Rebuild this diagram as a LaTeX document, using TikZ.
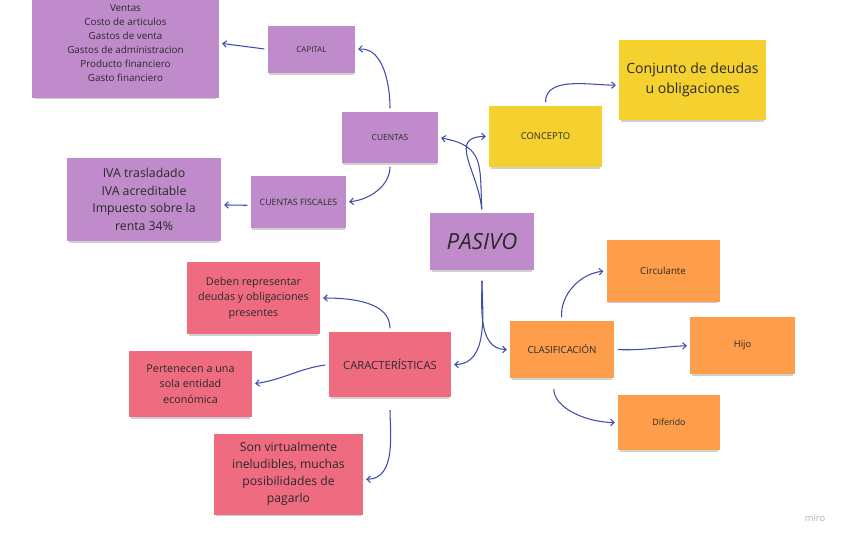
\documentclass[tikz,border=0pt]{standalone}
\usepackage{fontspec}
\setmainfont{Open Sans}
\usetikzlibrary{arrows.meta,shadows}
\definecolor{lila}{HTML}{C08BCB}
\definecolor{amarillo}{HTML}{F4D12E}
\definecolor{naranja}{HTML}{FE9E4A}
\definecolor{rosa}{HTML}{EF6C80}
\definecolor{azul}{HTML}{3F4BAE}
\definecolor{tinta}{HTML}{2A2A2A}

\begin{document}
\begin{tikzpicture}[x=0.03cm,y=-0.03cm,>={Straight Barb[length=3pt,width=5.5pt]},
        sticky/.style={inner sep=0pt,align=center,text=tinta,
            drop shadow={shadow xshift=0pt,shadow yshift=-2.5pt,shadow scale=0.97,opacity=0.3,fill=black!60}},
        flecha/.style={->,draw=azul,line width=0.9pt,shorten >=2.5pt,shorten <=3pt}]
        \clip (0,0) rectangle (848,543);
        \fill[white] (0,0) rectangle (848,543);
        % cuentas (lila)
        \node[sticky,fill=lila,minimum width=5.61cm,minimum height=3.3cm,font=\fontsize{8.4}{11.9}\selectfont] (lista) at (125.5,43) {Ventas\\Costo de articulos\\Gastos de venta\\Gastos de administracion\\Producto financiero\\Gasto financiero};
        \node[sticky,fill=lila,minimum width=2.61cm,minimum height=1.41cm,font=\fontsize{6.8}{8}\selectfont] (capital) at (311.5,49.5) {CAPITAL};
        \node[sticky,fill=lila,minimum width=2.88cm,minimum height=1.53cm,font=\fontsize{7.2}{8}\selectfont] (cuentas) at (390,137.5) {CUENTAS};
        \node[sticky,fill=lila,minimum width=2.85cm,minimum height=1.56cm,font=\fontsize{7.5}{8}\selectfont] (fiscales) at (298.5,202) {CUENTAS FISCALES};
        \node[sticky,fill=lila,minimum width=4.62cm,minimum height=2.49cm,font=\fontsize{10.5}{15}\selectfont] (iva) at (144,199.5) {IVA trasladado\\IVA acreditable\\Impuesto sobre la\\renta 34\%};
        \node[sticky,fill=lila,minimum width=3.12cm,minimum height=1.71cm,font=\fontsize{19}{20}\selectfont\itshape] (pasivo) at (482,241.5) {PASIVO};
        % concepto (amarillo)
        \node[sticky,fill=amarillo,minimum width=3.39cm,minimum height=1.83cm,font=\fontsize{8}{10}\selectfont] (concepto) at (545.5,136.5) {CONCEPTO};
        \node[sticky,fill=amarillo,minimum width=4.41cm,minimum height=2.4cm,font=\fontsize{12}{17}\selectfont] (conjunto) at (692.5,80) {Conjunto de deudas\\u obligaciones};
        % clasificacion (naranja)
        \node[sticky,fill=naranja,minimum width=3.39cm,minimum height=1.83cm,font=\fontsize{8.3}{10}\selectfont] (circulante) at (663,271) {Circulante};
        \node[sticky,fill=naranja,minimum width=3.12cm,minimum height=1.71cm,font=\fontsize{8.3}{9}\selectfont] (clasif) at (562,349.5) {CLASIFICACIÓN};
        \node[sticky,fill=naranja,minimum width=3.15cm,minimum height=1.71cm,font=\fontsize{8}{10}\selectfont] (hijo) at (742.5,345.5) {Hijo};
        \node[sticky,fill=naranja,minimum width=3.06cm,minimum height=1.65cm,font=\fontsize{7.5}{9}\selectfont] (diferido) at (669,422.5) {Diferido};
        % caracteristicas (rosa)
        \node[sticky,fill=rosa,minimum width=3.99cm,minimum height=2.16cm,font=\fontsize{9.2}{13}\selectfont] (deben) at (253.5,298) {Deben representar\\deudas y obligaciones\\presentes};
        \node[sticky,fill=rosa,minimum width=3.66cm,minimum height=1.95cm,font=\fontsize{9.6}{10}\selectfont] (caract) at (390,364.5) {CARACTERÍSTICAS};
        \node[sticky,fill=rosa,minimum width=3.69cm,minimum height=1.98cm,font=\fontsize{9.2}{13}\selectfont] (pertenecen) at (190.5,384) {Pertenecen a una\\sola entidad\\económica};
        \node[sticky,fill=rosa,minimum width=4.47cm,minimum height=2.43cm,font=\fontsize{10.4}{14.5}\selectfont] (son) at (288.5,474) {Son virtualmente\\ineludibles, muchas\\posibilidades de\\pagarlo};
        \node[text=black!30,font=\fontsize{8}{10}\selectfont] (miro) at (815,518) {miro};
        % flechas
        \draw[flecha] (capital.west) to[out=172,in=-8] (lista.east);
        \draw[flecha] (cuentas.north) to[out=90,in=5] (capital.east);
        \draw[flecha] (cuentas.south) to[out=-90,in=5] (fiscales.east);
        \draw[flecha] (fiscales.184) -- (iva.-4);
        \draw[flecha] (pasivo.north) to[out=93,in=-10,looseness=1.4] (cuentas.east);
        \draw[flecha] (pasivo.north) to[out=95,in=180,looseness=1.4] (concepto.west);
        \draw[flecha] (concepto.north) to[out=90,in=180] (conjunto.184);
        \draw[flecha,shorten <=9pt] (pasivo.south) to[out=-90,in=0] (caract.east);
        \draw[flecha,shorten <=9pt] (pasivo.south) to[out=-90,in=180] (clasif.west);
        \draw[flecha] (caract.north) to[out=90,in=0] (deben.east);
        \draw[flecha] (caract.west) to[out=188,in=8] (pertenecen.east);
        \draw[flecha,shorten <=11pt] (caract.south) to[out=-90,in=0] (son.-4);
        \draw[flecha] (clasif.north) to[out=95,in=185] (circulante.west);
        \draw[flecha] (clasif.east) to[out=-2,in=183] (hijo.west);
        \draw[flecha,shorten <=9pt] ([xshift=-7pt]clasif.south) to[out=-90,in=180] (diferido.west);
    \end{tikzpicture}
\end{document}
